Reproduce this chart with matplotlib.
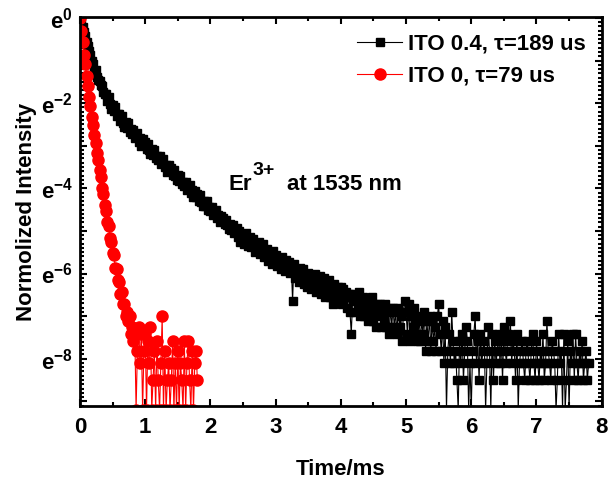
import numpy as np
import matplotlib
matplotlib.use('Agg')
import matplotlib.pyplot as plt
from matplotlib.ticker import FixedLocator, FuncFormatter, MultipleLocator

plt.rcParams['font.family'] = 'Liberation Sans'
plt.rcParams['font.weight'] = 'bold'
plt.rcParams['mathtext.fontset'] = 'custom'
plt.rcParams['mathtext.rm'] = 'Liberation Sans:bold'
plt.rcParams['mathtext.bf'] = 'Liberation Sans:bold'
plt.rcParams['mathtext.default'] = 'regular'

# channel width of the decay traces (ms)
dt = 0.02

# photon counts per channel, ITO 0.4 sample (0 .. 7.8 ms)
counts_ito04 = [
    9900, 8820, 7990, 7080, 6420, 5670, 5160, 4540, 4110, 3600,
    3360, 2860, 2900, 2470, 2290, 2230, 2040, 1990, 1750, 1670,
    1650, 1400, 1550, 1310, 1170, 1290, 1110, 1230, 990, 1035,
    1031, 879, 981, 842, 763, 851, 744, 833, 681, 722,
    651, 716, 591, 647, 663, 544, 584, 495, 571, 497,
    533, 459, 516, 445, 405, 454, 398, 447, 366, 390,
    352, 388, 320, 352, 361, 296, 317, 269, 310, 270,
    289, 249, 280, 242, 219, 246, 216, 242, 199, 211,
    191, 211, 174, 191, 196, 161, 173, 147, 169, 147,
    158, 136, 154, 133, 121, 135, 119, 134, 110, 117,
    106, 118, 98, 107, 110, 90, 97, 83, 95, 84,
    90, 78, 87, 76, 69, 78, 68, 77, 63, 67,
    71, 58, 66, 52, 61, 59, 49, 63, 54, 47,
    58, 46, 50, 55, 41, 49, 44, 52, 39, 45,
    49, 36, 41, 44, 33, 40, 37, 31, 42, 34,
    38, 29, 35, 33, 27, 36, 30, 26, 34, 28,
    32, 25, 29, 13, 31, 22, 27, 24, 20, 28,
    22, 27, 19, 24, 18, 25, 21, 17, 23, 20,
    24, 16, 21, 18, 23, 15, 19, 22, 14, 20,
    17, 21, 14, 18, 12, 19, 16, 13, 18, 15,
    18, 12, 17, 14, 16, 11, 15, 10, 6, 13,
    15, 10, 13, 11, 16, 9, 12, 14, 9, 11,
    13, 8, 12, 10, 14, 8, 11, 7, 12, 9,
    12, 7, 11, 8, 12, 7, 10, 6, 11, 7,
    11, 7, 10, 6, 11, 7, 9, 5, 10, 13,
    10, 6, 12, 5, 9, 7, 11, 6, 8, 5,
    9, 5, 8, 6, 10, 4, 8, 5, 9, 4,
    8, 5, 7, 4, 9, 12, 6, 4, 8, 3,
    7, 1, 4, 6, 3, 10, 5, 3, 4, 2,
    1, 5, 3, 6, 2, 4, 7, 5, 1, 3,
    1, 4, 6, 9, 3, 5, 2, 6, 3, 4,
    5, 1, 3, 7, 4, 1, 6, 2, 5, 3,
    4, 6, 3, 5, 2, 7, 4, 3, 6, 5,
    8, 3, 5, 4, 2, 6, 1, 3, 4, 5,
    3, 2, 4, 5, 3, 2, 4, 6, 3, 2,
    5, 3, 2, 4, 3, 6, 2, 3, 8, 4,
    3, 2, 5, 4, 3, 1, 2, 6, 3, 4,
    1, 6, 1, 2, 5, 1, 4, 3, 6, 2,
    6, 3, 2, 4, 3, 5, 2, 3, 4, 2,
    3,
]

# photon counts per channel, ITO 0 sample (0 .. 1.8 ms)
counts_ito0 = [
    9900, 7290, 5580, 4190, 3320, 2540, 2020, 1530, 1250, 975,
    810, 628, 526, 415, 350, 276, 236, 183, 158, 124,
    107, 83, 75, 57, 52, 40, 38, 28, 27, 21,
    20, 15, 16, 12, 12, 9, 10, 8, 9, 6,
    7, 5, 6, 1, 4, 7, 3, 6, 1, 4,
    6, 1, 5, 3, 7, 1, 2, 4, 1, 5,
    2, 1, 3, 9, 1, 4, 1, 2, 3, 1,
    2, 5, 1, 3, 1, 4, 1, 3, 2, 1,
    5, 1, 3, 5, 2, 1, 4, 1, 3, 4,
    2,
]

labels = ['ITO 0.4, τ=189 us', 'ITO 0, τ=79 us']

t04 = np.arange(len(counts_ito04)) * dt
t0 = np.arange(len(counts_ito0)) * dt
y04 = np.array(counts_ito04, dtype=float) / counts_ito04[0]
y0 = np.array(counts_ito0, dtype=float) / counts_ito0[0]

fig = plt.figure(figsize=(6.08, 4.82), dpi=100)
ax = fig.add_axes([0.1316, 0.1577, 0.858, 0.806])

ax.plot(t04, y04, '-', color='black', lw=0.8, marker='s', ms=6,
        mfc='black', mec='black', label=labels[0])
ax.plot(t0, y0, '-', color='red', lw=0.8, marker='o', ms=8,
        mfc='red', mec='red', label=labels[1])

ax.set_yscale('log')
ax.set_xlim(0, 8)
ax.set_ylim(np.exp(-9.11), np.exp(0.01))

ax.xaxis.set_major_locator(MultipleLocator(1))
ax.xaxis.set_minor_locator(MultipleLocator(0.5))

major_y = [np.exp(-n) for n in range(0, 10)]
minor_y = [np.exp(-n - k / 10) for n in range(0, 10) for k in range(1, 10)]
ax.yaxis.set_major_locator(FixedLocator(major_y))
ax.yaxis.set_minor_locator(FixedLocator(minor_y))


def e_label(v, pos):
    n = int(round(np.log(v)))
    if n % 2 == 0:
        return r'$e^{%d}$' % n
    return ''


ax.yaxis.set_major_formatter(FuncFormatter(e_label))
ax.yaxis.set_minor_formatter(FuncFormatter(lambda v, p: ''))

ax.tick_params(which='both', direction='in', top=True, right=True,
               labelsize=16, width=1.5)
ax.tick_params(which='major', length=5)
ax.tick_params(which='minor', length=3)
ax.tick_params(axis='x', pad=8)
ax.tick_params(axis='y', pad=5)
for s in ax.spines.values():
    s.set_linewidth(2)

ax.set_xlabel('Time/ms', fontsize=16, fontweight='bold', labelpad=15)
ax.set_ylabel('Normolized Intensity', fontsize=16, fontweight='bold',
              labelpad=3)

# "Er3+ at 1535 nm" written in three pieces so the superscript sits tight
ax.text(2.27, np.exp(-4.04), 'Er', fontsize=16, fontweight='bold',
        va='baseline')
ax.text(2.65, np.exp(-3.69), '3+', fontsize=14, fontweight='bold',
        va='baseline')
ax.text(3.17, np.exp(-4.04), 'at 1535 nm', fontsize=16, fontweight='bold',
        va='baseline')

ax.legend(loc='upper left', bbox_to_anchor=(0.531, 0.958), frameon=False,
          fontsize=16, handlelength=2.03, handletextpad=0.27,
          labelspacing=0.5, borderaxespad=0, borderpad=0)

fig.savefig('out.png', dpi=100)
